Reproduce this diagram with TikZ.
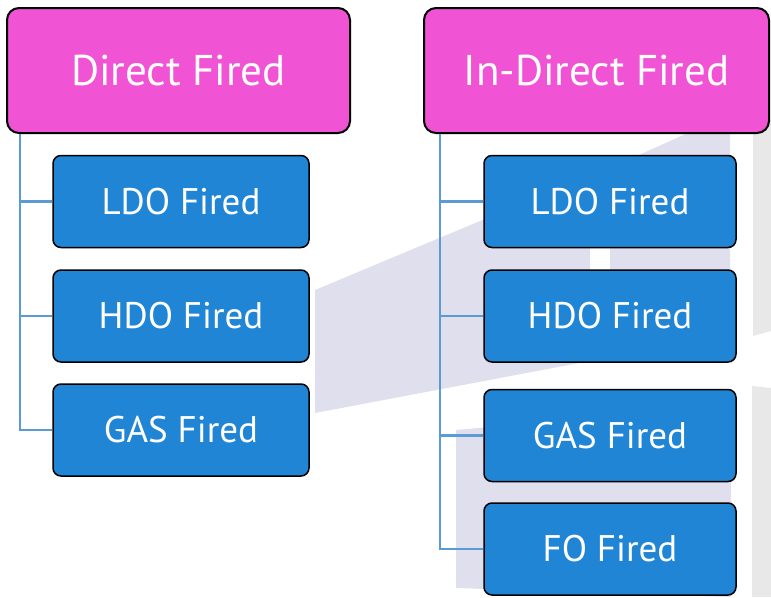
\documentclass[tikz,border=0pt]{standalone}
\usepackage{fontspec}
\setmainfont{PT Sans}
\definecolor{headpink}{HTML}{F053D3}
\definecolor{fuelblue}{HTML}{2185D5}
\definecolor{linkblue}{HTML}{5B9BD5}
\definecolor{panelilac}{HTML}{E0DFEE}
\definecolor{panegray}{HTML}{E8E8E8}
\tikzset{
  headbox/.style={draw=black,line width=2pt,fill=headpink,rounded corners=12pt,
    text=white,minimum height=125pt,font=\fontsize{43}{50}\selectfont},
  fuelbox/.style={draw=black,line width=1.5pt,fill=fuelblue,rounded corners=8pt,
    text=white,minimum height=92pt,font=\fontsize{37}{42}\selectfont},
  link/.style={draw=linkblue,line width=2.5pt}
}
\begin{document}
\begin{tikzpicture}[x=1pt,y=-1pt]
  \useasboundingbox (0,0) rectangle (771,597);
  % backdrop panes
  \fill[panelilac] (315,290) -- (590,175) -- (590,361) -- (315,413) -- cycle;
  \fill[panelilac] (610,168) -- (730,114) -- (730,335) -- (610,357) -- cycle;
  \fill[panelilac] (456,430) -- (731,405) -- (731,597) -- (456,588) -- cycle;
  \fill[panegray] (753,120) -- (771,120) -- (771,331) -- (753,336) -- cycle;
  \fill[panegray] (752,386) -- (771,388) -- (771,597) -- (752,597) -- cycle;
  % direct fired
  \node[headbox,minimum width=343pt] (direct) at (178.5,70.5) {Direct Fired};
  \node[fuelbox,minimum width=256pt] (dldo) at (181,201.5) {LDO Fired};
  \node[fuelbox,minimum width=256pt] (dhdo) at (181,316) {HDO Fired};
  \node[fuelbox,minimum width=256pt] (dgas) at (181,430) {GAS Fired};
  % in-direct fired
  \node[headbox,minimum width=345pt] (indirect) at (596.5,70.5) {In-Direct Fired};
  \node[fuelbox,minimum width=252pt] (ildo) at (610,201.5) {LDO Fired};
  \node[fuelbox,minimum width=252pt] (ihdo) at (610,316) {HDO Fired};
  \node[fuelbox,minimum width=252pt] (igas) at (610,435.5) {GAS Fired};
  \node[fuelbox,minimum width=252pt] (ifo) at (610,549) {FO Fired};
  % links
  \foreach \n in {dldo,dhdo,dgas}
    \draw[link] ([xshift=14pt]direct.south west) |- (\n.west);
  \foreach \n in {ildo,ihdo,igas,ifo}
    \draw[link] ([xshift=17pt]indirect.south west) |- (\n.west);
\end{tikzpicture}
\end{document}
